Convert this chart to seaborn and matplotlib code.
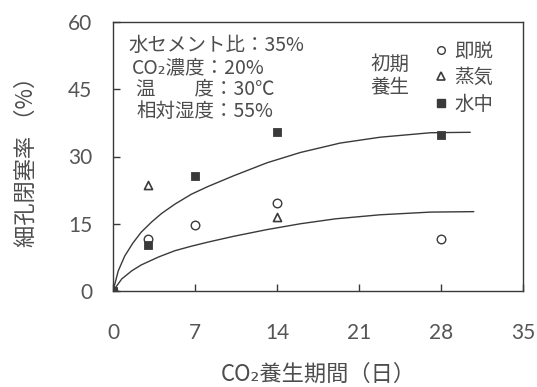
import matplotlib
matplotlib.use("Agg")
import matplotlib.pyplot as plt
from matplotlib.lines import Line2D
import seaborn as sns
import pandas as pd

# Measured closure ratios by initial curing condition
days_sokudatsu = [0, 3, 7, 14, 28]
rate_sokudatsu = [0, 11.5, 14.7, 19.6, 11.5]
days_jouki = [0, 3, 14]
rate_jouki = [0, 23.7, 16.6]
days_suichu = [0, 3, 7, 14, 28]
rate_suichu = [0, 10.2, 25.7, 35.4, 34.7]

# Trend curves
upper_x = [0, 0.45, 1.0, 1.7, 2.4, 3.3, 4.15, 5.3, 6.7, 8.1, 10.3, 13.15, 16.0, 19.4, 22.8, 27.1, 30.5]
upper_y = [0, 4.5, 7.8, 10.7, 13.1, 15.4, 17.3, 19.4, 21.6, 23.3, 25.7, 28.6, 30.9, 33.0, 34.3, 35.3, 35.4]
lower_x = [0, 0.75, 1.6, 2.4, 3.9, 5.3, 6.7, 8.1, 10.3, 13.15, 16.0, 19.0, 22.8, 27.1, 30.8]
lower_y = [0, 2.7, 4.5, 5.8, 7.6, 9.0, 10.0, 10.9, 12.2, 13.7, 15.0, 16.1, 17.0, 17.6, 17.7]

x_ticks = [0, 7, 14, 21, 28, 35]
y_ticks = [0, 15, 30, 45, 60]

sns.set_theme(style="ticks")
plt.rcParams["font.family"] = ["Noto Sans CJK JP", "DejaVu Sans"]

INK = "#3a3a3a"
TXT = "#4d4d4d"

fig = plt.figure(figsize=(5.37, 3.87), dpi=100)
ax = fig.add_axes([113 / 537, 1 - 291 / 387, 410 / 537, 269 / 387])

curves = pd.concat([
    pd.DataFrame({"day": upper_x, "rate": upper_y, "curve": "upper"}),
    pd.DataFrame({"day": lower_x, "rate": lower_y, "curve": "lower"}),
])
sns.lineplot(data=curves, x="day", y="rate", units="curve", estimator=None,
             color=INK, linewidth=1.0, sort=False, ax=ax, legend=False)

pts_s = pd.DataFrame({"day": days_sokudatsu, "rate": rate_sokudatsu})
pts_j = pd.DataFrame({"day": days_jouki, "rate": rate_jouki})
pts_w = pd.DataFrame({"day": days_suichu, "rate": rate_suichu})
sns.scatterplot(data=pts_s, x="day", y="rate", marker="o", s=38,
                facecolor="white", edgecolor=INK, linewidth=1.0, ax=ax, zorder=3)
sns.scatterplot(data=pts_j, x="day", y="rate", marker="^", s=34,
                facecolor="white", edgecolor=INK, linewidth=1.2, ax=ax, zorder=3)
sns.scatterplot(data=pts_w, x="day", y="rate", marker="s", s=40,
                facecolor=INK, edgecolor=INK, linewidth=0.6, ax=ax, zorder=4)

ax.set_xlim(0, 35)
ax.set_ylim(0, 60)
ax.set_xticks(x_ticks)
ax.set_yticks(y_ticks)
ax.set_xticklabels([str(v) for v in x_ticks])
ax.set_yticklabels([str(v) for v in y_ticks])
ax.tick_params(direction="in", length=5, width=1.0, color=INK,
               labelsize=15, labelcolor="#555555")
ax.tick_params(axis="x", pad=23)
ax.tick_params(axis="y", pad=15)
for lab in ax.get_xticklabels() + ax.get_yticklabels():
    lab.set_fontfamily(["Lato", "DejaVu Sans"])
    lab.set_fontweight("normal")
for sp in ax.spines.values():
    sp.set_color(INK)
    sp.set_linewidth(1.0)
    sp.set_visible(True)

ax.set_xlabel("CO₂養生期間（日）", fontsize=16, color=TXT, labelpad=14)
ax.set_ylabel("細孔閉塞率 （%）", fontsize=16, color=TXT, labelpad=22)

# Test conditions
cond = ["水セメント比：35%", "CO₂濃度：20%", "温　　度：30℃", "相対湿度：55%"]
cond_x = [0.037, 0.046, 0.056, 0.056]
cond_y = [0.913, 0.830, 0.752, 0.669]
for t, cx, cy in zip(cond, cond_x, cond_y):
    ax.text(cx, cy, t, transform=ax.transAxes, fontsize=14, color=TXT,
            ha="left", va="center")

ax.text(0.627, 0.80, "初期\n養生", transform=ax.transAxes, fontsize=14,
        color=TXT, ha="left", va="center", linespacing=1.15)

handles = [
    Line2D([], [], linestyle="none", marker="o", markersize=5.5,
           markerfacecolor="white", markeredgecolor=INK, markeredgewidth=1.0),
    Line2D([], [], linestyle="none", marker="^", markersize=5.5,
           markerfacecolor="white", markeredgecolor=INK, markeredgewidth=1.2),
    Line2D([], [], linestyle="none", marker="s", markersize=5.5,
           markerfacecolor=INK, markeredgecolor=INK),
]
labels = ["即脱", "蒸気", "水中"]
leg = ax.legend(handles, labels, loc="upper left", bbox_to_anchor=(0.75, 0.98),
                frameon=False, fontsize=14, handlelength=0.7, handletextpad=0.35,
                labelspacing=0.27, borderpad=0.2)
for t in leg.get_texts():
    t.set_color(TXT)

fig.savefig("out.png", dpi=100, facecolor="white")
